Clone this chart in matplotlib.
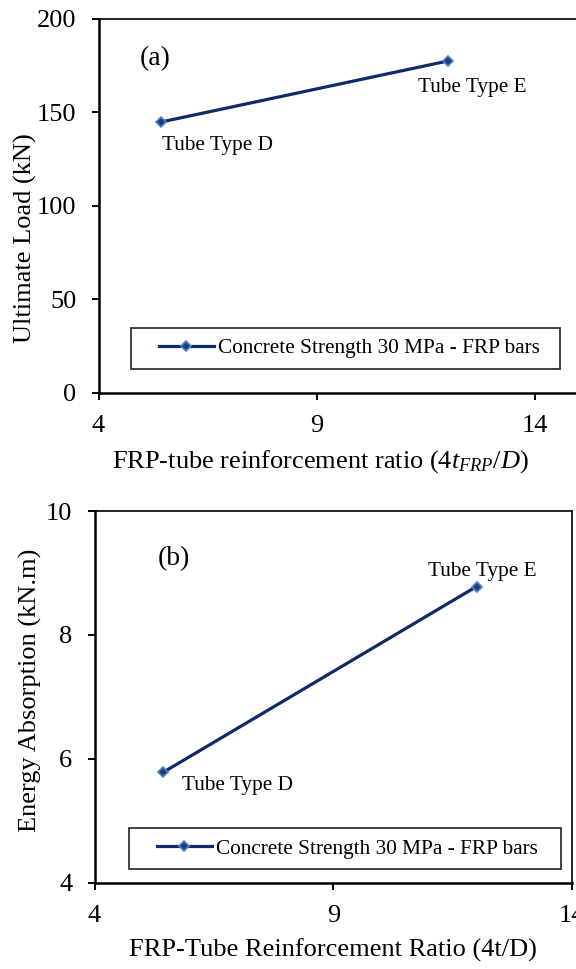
import matplotlib
matplotlib.use("Agg")
import matplotlib.pyplot as plt
from matplotlib.legend_handler import HandlerLine2D

plt.rcParams['font.family'] = ['Liberation Serif', 'DejaVu Serif']
plt.rcParams['mathtext.fontset'] = 'custom'
plt.rcParams['mathtext.rm'] = 'Liberation Serif'
plt.rcParams['mathtext.it'] = 'Liberation Serif:italic'

# tube reinforcement ratio (4t/D) for tube types D and E
ratio = [5.44, 12.0]
tube_names = ['Tube Type D', 'Tube Type E']
ultimate_load = [144.9, 177.5]   # kN
energy = [5.78, 8.78]            # kN.m
series_name = 'Concrete Strength 30 MPa - FRP bars'

line_col = '#0f2a66'
face_col = '#1c3f7c'
edge_col = '#4f84c4'

W, H = 576, 969
fig = plt.figure(figsize=(W / 100, H / 100), dpi=100)


def px_axes(left, top, right, bottom):
    return fig.add_axes([left / W, 1 - bottom / H, (right - left) / W, (bottom - top) / H])


def style_axes(ax, right_spine=True):
    for s in ['left', 'bottom']:
        ax.spines[s].set_linewidth(1.8)
    ax.spines['top'].set_linewidth(1.2)
    ax.spines['right'].set_linewidth(1.2)
    ax.spines['right'].set_visible(right_spine)
    ax.tick_params(direction='out', length=5, width=1.4, labelsize=19, pad=11)


def add_legend(ax, anchor):
    leg = ax.legend(loc='center', bbox_to_anchor=anchor, mode='expand', borderaxespad=0,
                    fontsize=15.3, frameon=True, fancybox=False, edgecolor='black',
                    borderpad=0.5, handlelength=3.4, handletextpad=0.2,
                    handler_map={matplotlib.lines.Line2D: HandlerLine2D(xpad=0.82)})
    leg.get_frame().set_linewidth(1.3)
    return leg


# (a) ultimate load
ax1 = px_axes(98.5, 19, 578.5, 392.7)
ax1.plot(ratio, ultimate_load, color=line_col, lw=2.3, marker='D', ms=5.5,
         mfc=face_col, mec=edge_col, mew=1.2, label=series_name, clip_on=False)
ax1.set_xlim(4, 15)
ax1.set_ylim(0, 200)
ax1.set_xticks([4, 9, 14])
ax1.set_yticks([0, 50, 100, 150, 200])
style_axes(ax1, right_spine=False)
ax1.text(0.086, 0.893, '(a)', transform=ax1.transAxes, fontsize=20, ha='left', va='center')
ax1.annotate(tube_names[0], (ratio[0], ultimate_load[0]), xytext=(1, -24),
             textcoords='offset pixels', fontsize=15.3, ha='left', va='center')
ax1.annotate(tube_names[1], (ratio[1], ultimate_load[1]), xytext=(-30, -26),
             textcoords='offset pixels', fontsize=15.3, ha='left', va='center')
add_legend(ax1, (0.067, 0.119, 0.894, 0))

fig.text(25 / W, 1 - 238 / H, 'Ultimate Load (kN)', rotation=90,
         ha='center', va='center', fontsize=19)
fig.text(320 / W, 1 - 462 / H, 'FRP-tube reinforcement ratio ($\\mathit{4t}_{\\mathit{FRP}}\\mathit{/D}$)',
         ha='center', va='center', fontsize=19)

# (b) energy absorption
ax2 = px_axes(94.5, 511, 572, 882.5)
ax2.plot(ratio, energy, color=line_col, lw=2.3, marker='D', ms=5.5,
         mfc=face_col, mec=edge_col, mew=1.2, label=series_name, clip_on=False)
ax2.set_xlim(4, 14)
ax2.set_ylim(4, 10)
ax2.set_xticks([4, 9, 14])
ax2.set_yticks([4, 6, 8, 10])
style_axes(ax2)
ax2.text(0.133, 0.873, '(b)', transform=ax2.transAxes, fontsize=20, ha='left', va='center')
ax2.annotate(tube_names[0], (ratio[0], energy[0]), xytext=(19, -13),
             textcoords='offset pixels', fontsize=15.3, ha='left', va='center')
ax2.annotate(tube_names[1], (ratio[1], energy[1]), xytext=(-48, 15),
             textcoords='offset pixels', fontsize=15.3, ha='left', va='center')
add_legend(ax2, (0.072, 0.091, 0.906, 0))

fig.text(30 / W, 1 - 690 / H, 'Energy Absorption (kN.m)', rotation=90,
         ha='center', va='center', fontsize=19)
fig.text(332.5 / W, 1 - 950 / H, 'FRP-Tube Reinforcement Ratio (4t/D)',
         ha='center', va='center', fontsize=19)

fig.savefig('out.png', dpi=100)
